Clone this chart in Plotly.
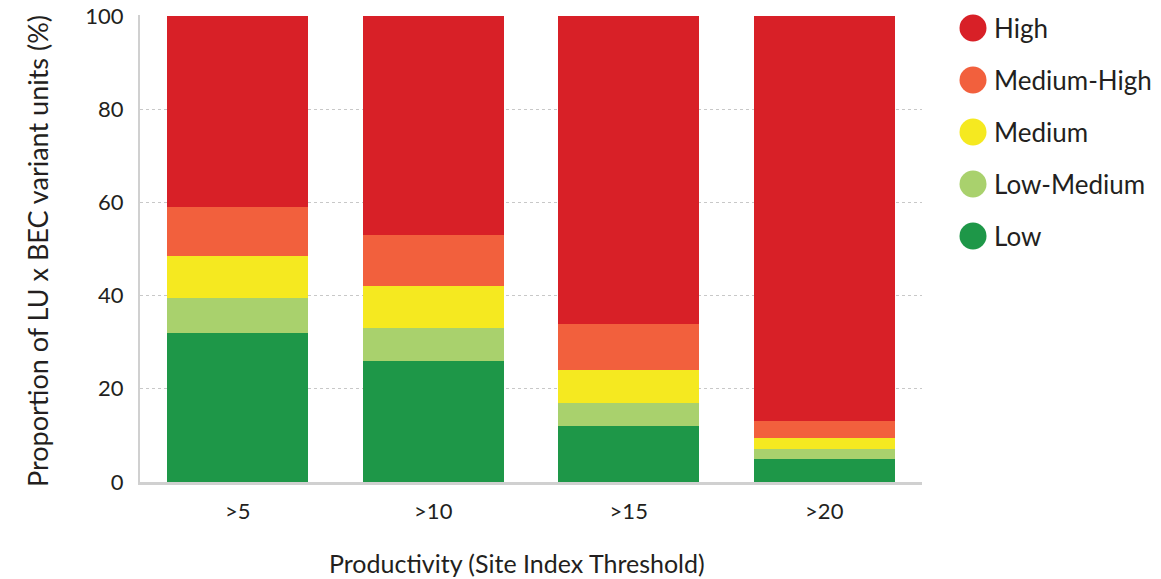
import plotly.graph_objects as go

categories = [">5", ">10", ">15", ">20"]
low = [32, 26, 12, 5]
low_medium = [7.5, 7, 5, 2]
medium = [9, 9, 7, 2.5]
medium_high = [10.5, 11, 10, 3.5]
high = [41, 47, 66, 87]

series = [
    ("Low", low, "#1e9748"),
    ("Low-Medium", low_medium, "#a9d16d"),
    ("Medium", medium, "#f5e920"),
    ("Medium-High", medium_high, "#f2603d"),
    ("High", high, "#d82027"),
]

FONT = "Lato, 'Open Sans', sans-serif"
TXT = "#231f20"

fig = go.Figure()
for name, vals, color in series:
    fig.add_trace(go.Bar(x=categories, y=vals, name=name, marker=dict(color=color, line=dict(width=0)),
                         showlegend=False))

W, H = 1161, 579
L, R, T, B = 140, 922, 15, 482  # plot area in window pixels

def px_x(p):
    return (p - L) / (R - L)

def px_y(p):
    return (B - p) / (B - T)

legend_items = list(reversed(series))
shapes = []
annotations = []
for i, (name, vals, color) in enumerate(legend_items):
    cy = 28 + i * 52
    cx = 973
    r = 13.5
    shapes.append(dict(type="circle", xref="paper", yref="paper",
                       x0=px_x(cx - r), x1=px_x(cx + r), y0=px_y(cy + r), y1=px_y(cy - r),
                       fillcolor=color, line=dict(width=0)))
    annotations.append(dict(text=name, xref="paper", yref="paper", x=px_x(992), y=px_y(cy),
                            xanchor="left", yanchor="middle", showarrow=False,
                            font=dict(size=26, color=TXT, family=FONT)))

annotations.append(dict(text="Productivity (Site Index Threshold)", xref="paper", yref="paper",
                        x=px_x(517), y=px_y(563), xanchor="center", yanchor="middle", showarrow=False,
                        font=dict(size=25, color=TXT, family=FONT)))
annotations.append(dict(text="Proportion of LU x BEC variant units (%)", xref="paper", yref="paper",
                        x=px_x(37), y=px_y(251), xanchor="center", yanchor="middle", showarrow=False,
                        textangle=-90, font=dict(size=27, color=TXT, family=FONT)))

fig.update_layout(
    barmode="stack",
    bargap=0.28,
    width=W, height=H,
    margin=dict(l=L, r=W - R, t=T, b=H - B),
    plot_bgcolor="white", paper_bgcolor="white",
    font=dict(family=FONT, size=22, color=TXT),
    shapes=shapes,
    annotations=annotations,
    xaxis=dict(
        showline=True, linecolor="#d0d0d0", linewidth=3,
        tickfont=dict(size=22), ticks="", showgrid=False, automargin=False,
        ticklabelstandoff=8,
    ),
    yaxis=dict(
        range=[0, 100.2], tickvals=[0, 20, 40, 60, 80, 100],
        showline=True, linecolor="#d0d0d0", linewidth=2,
        showgrid=True, gridcolor="#c8c8c8", griddash="dot", gridwidth=1,
        zeroline=False, tickfont=dict(size=22), ticks="", automargin=False,
        ticklabelstandoff=10, ticklabeloverflow="allow",
    ),
)

fig.write_html(
    "out.html",
    config={"displayModeBar": False},
    post_script="document.body.style.margin='0';document.body.style.overflow='hidden';",
)
